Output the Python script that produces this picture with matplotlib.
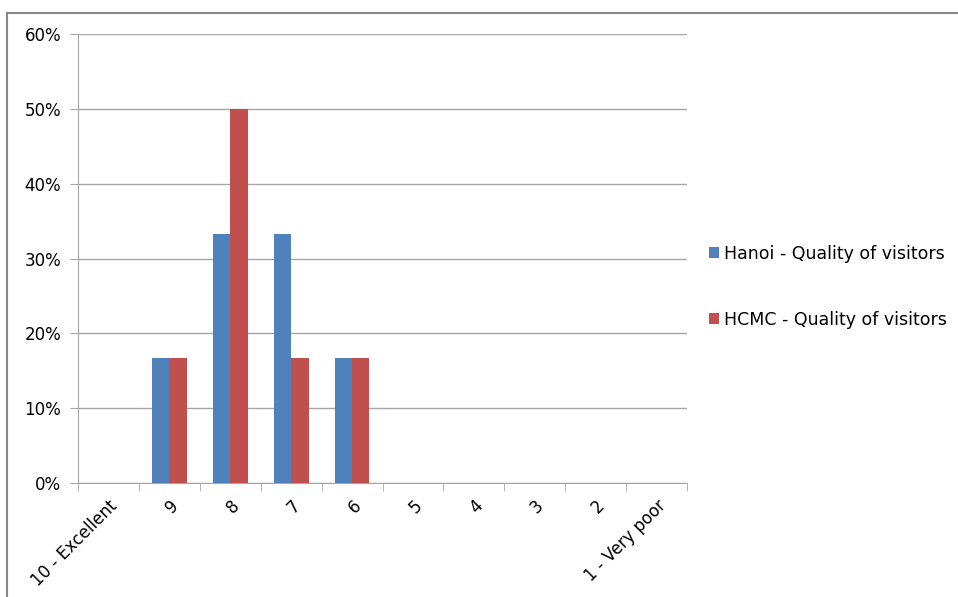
import numpy as np
import matplotlib.pyplot as plt
from matplotlib.patches import Rectangle
from matplotlib.ticker import PercentFormatter

categories = ["10 - Excellent", "9", "8", "7", "6", "5", "4", "3", "2", "1 - Very poor"]
hanoi = [0, 16.67, 33.33, 33.33, 16.67, 0, 0, 0, 0, 0]
hcmc = [0, 16.67, 50.0, 16.67, 16.67, 0, 0, 0, 0, 0]

blue = "#4F81BD"
red = "#C0504D"
grid_c = "#A6A6A6"

plt.rcParams['font.family'] = ['DejaVu Sans']

fig = plt.figure(figsize=(9.58, 5.97), dpi=100)
ax = fig.add_axes([78 / 958, 114 / 597, 609 / 958, 449 / 597])

# outer chart border
fig.patches.append(Rectangle((7 / 958, -0.1), 1.1, (597 - 13) / 597 + 0.1,
                             transform=fig.transFigure, fill=False,
                             edgecolor="#878787", linewidth=1.5))

x = np.arange(len(categories))
w = 1 / 3.5
ax.bar(x - w / 2, hanoi, w, color=blue, label="Hanoi - Quality of visitors", zorder=3)
ax.bar(x + w / 2, hcmc, w, color=red, label="HCMC - Quality of visitors", zorder=3)

ax.set_xlim(-0.5, len(categories) - 0.5)
ax.set_ylim(0, 60)
ax.set_yticks(np.arange(0, 61, 10))
ax.yaxis.set_major_formatter(PercentFormatter(decimals=0))
ax.yaxis.grid(True, color=grid_c, linewidth=1, zorder=0)

ax.set_xticks(x)
ax.set_xticklabels(categories, rotation=45, ha="right", rotation_mode="anchor", fontsize=12)
ax.tick_params(axis="x", length=0, pad=10)
ax.set_xticks(np.arange(-0.5, len(categories)), minor=True)
ax.tick_params(axis="x", which="minor", length=6, color=grid_c)
ax.tick_params(axis="y", length=6, color=grid_c, labelsize=12, pad=6)

for s in ["top", "right"]:
    ax.spines[s].set_visible(False)
ax.spines["left"].set_color(grid_c)
ax.spines["bottom"].set_color(grid_c)

ax.legend(loc="center left", bbox_to_anchor=(1.01, 0.437), frameon=False,
          fontsize=12.5, handlelength=0.6, handleheight=0.6, handletextpad=0.3,
          labelspacing=2.75)

fig.savefig("out.png", dpi=100)
